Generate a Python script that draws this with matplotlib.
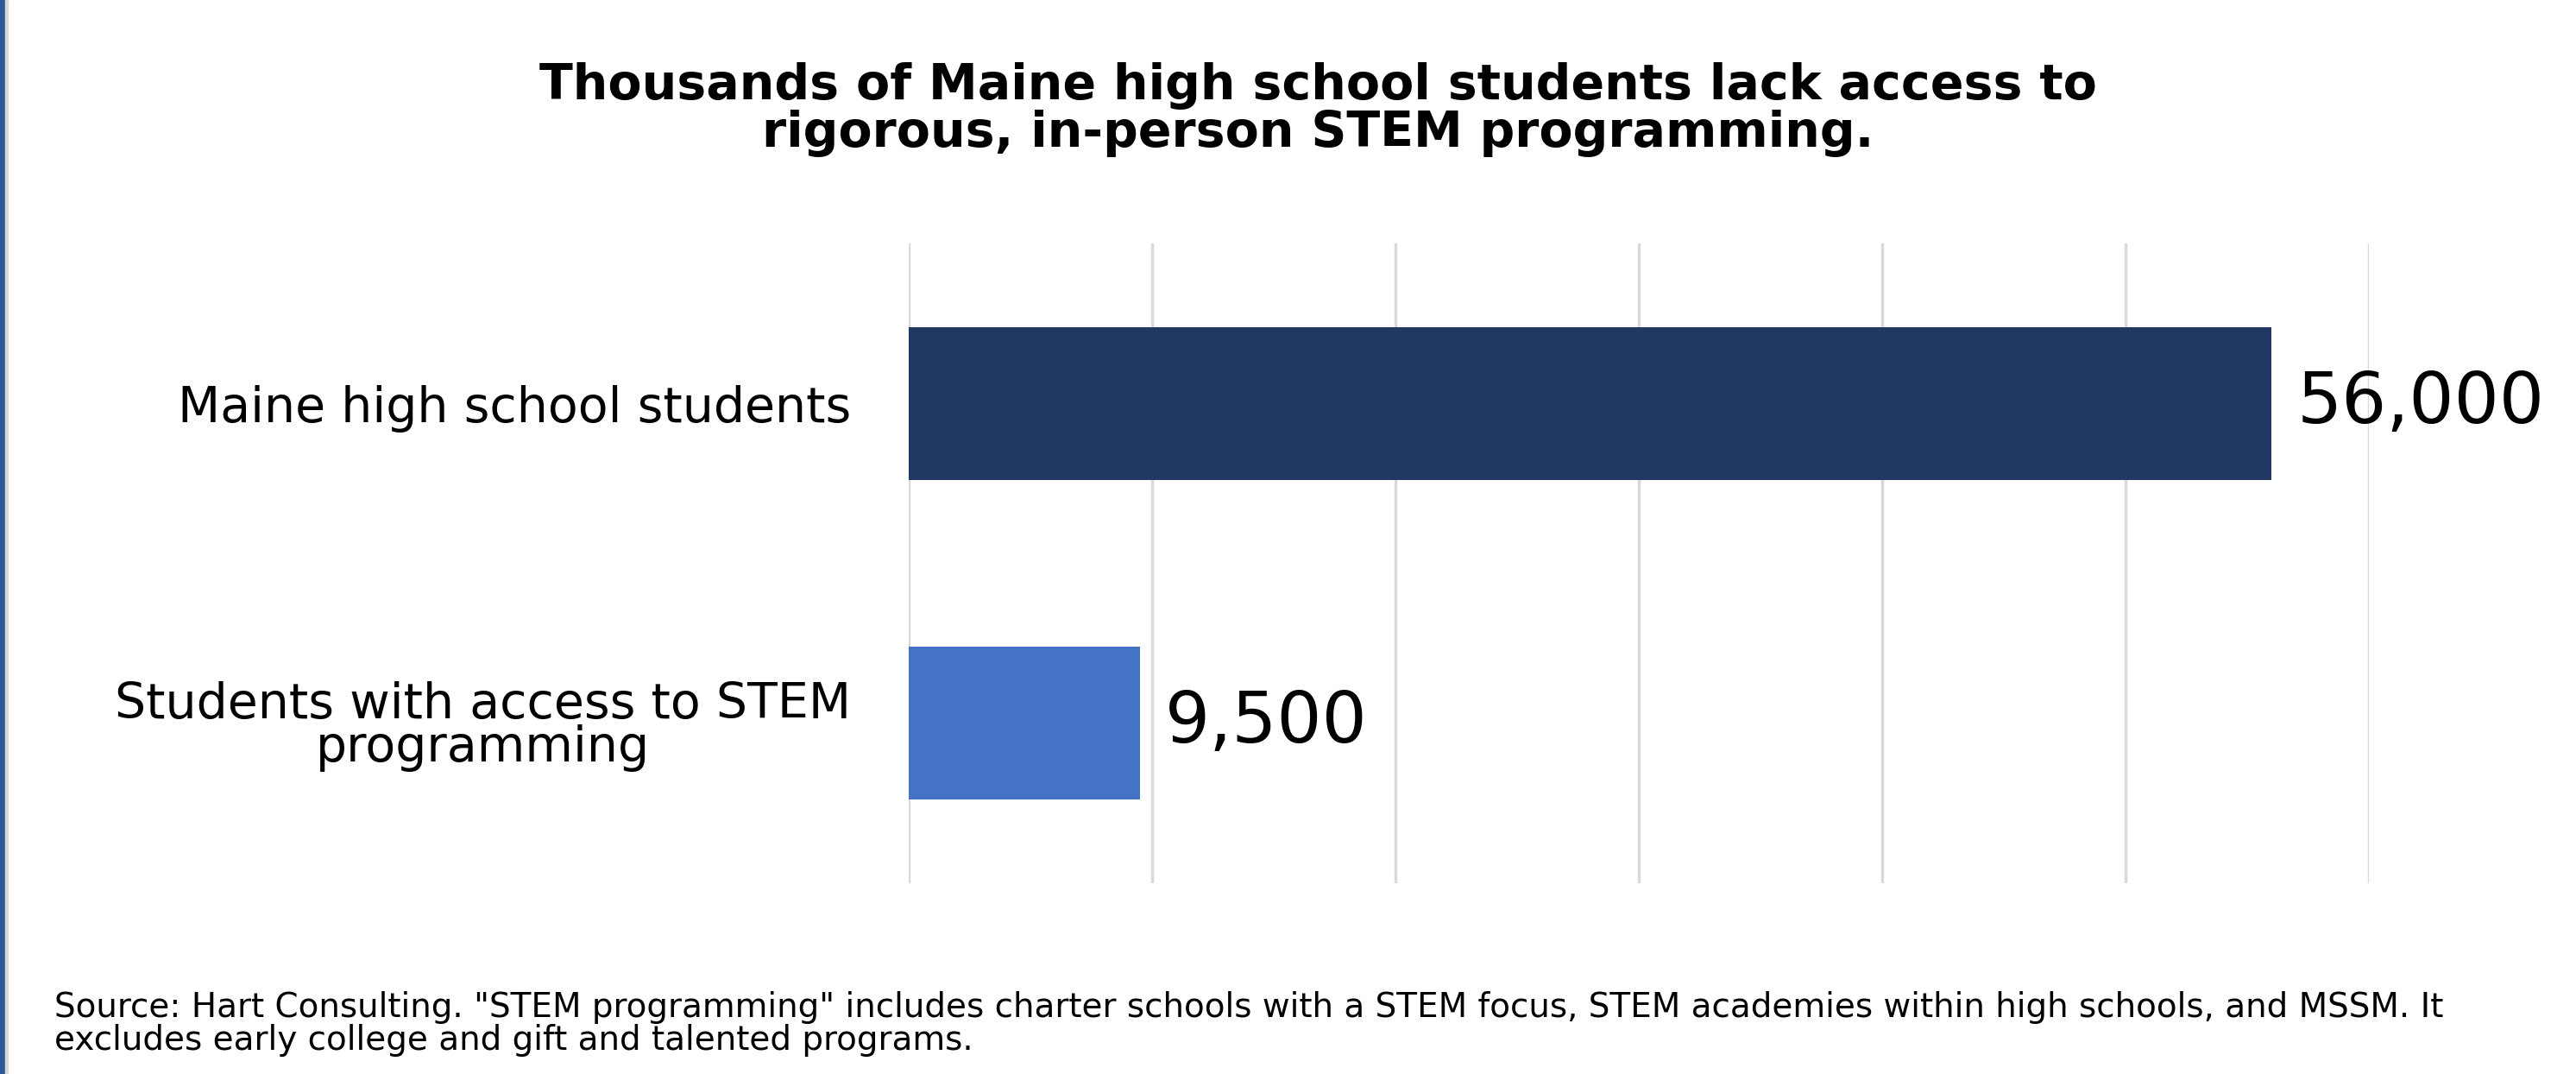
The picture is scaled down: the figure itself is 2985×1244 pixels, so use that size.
import matplotlib
matplotlib.use('Agg')
import matplotlib.pyplot as plt
from matplotlib.patches import Rectangle

# data
categories = ['Maine high school students', 'Students with access to STEM\nprogramming']
values = [56000, 9500]
value_labels = ['56,000', '9,500']
bar_colors = ['#213862', '#4472C4']
x_ticks = [0, 10000, 20000, 30000, 40000, 50000, 60000]

title = ('Thousands of Maine high school students lack access to\n'
         'rigorous, in-person STEM programming.')
source = ('Source: Hart Consulting. "STEM programming" includes charter schools with a STEM focus, '
          'STEM academies within high schools, and MSSM. It\n'
          'excludes early college and gift and talented programs.')

plt.rcParams['font.family'] = ['DejaVu Sans']

fig = plt.figure(figsize=(29.85, 12.44), dpi=100)
fig.patch.set_facecolor('white')

# left border strip like the slide frame
fig.patches.append(Rectangle((0, 0), 6 / 2985, 1, transform=fig.transFigure,
                             color='#2F5A9A', zorder=5))
fig.patches.append(Rectangle((6 / 2985, 0), 3 / 2985, 1, transform=fig.transFigure,
                             color='#D9D9D9', zorder=5))

ax = fig.add_axes([1053 / 2985, 1 - 1023 / 1244, (2745 - 1053) / 2985, (1023 - 282) / 1244])

ypos = list(range(len(categories)))
ax.barh(ypos, values, height=0.478, color=bar_colors, zorder=3)

ax.set_xlim(x_ticks[0], x_ticks[-1])
ax.set_ylim(len(categories) - 0.5, -0.5)
ax.set_xticks(x_ticks)
ax.set_xticklabels([])
ax.grid(axis='x', color='#D9D9D9', linewidth=2.5)
ax.set_axisbelow(True)
for s in ax.spines.values():
    s.set_visible(False)
ax.tick_params(axis='both', length=0)
ax.tick_params(axis='y', pad=48)

ax.set_yticks(ypos)
ax.set_yticklabels(categories, fontsize=41)
for lab in ax.get_yticklabels():
    lab.set_multialignment('center')
    lab.set_linespacing(0.88)

# value labels at the bar ends
for y, v, lab in zip(ypos, values, value_labels):
    ax.annotate(lab, (v, y), xytext=(21, 0), textcoords='offset points',
                va='center', ha='left', fontsize=59, color='black')

fig.text(1527 / 2985, 1 - 127 / 1244, title, ha='center', va='center',
         fontsize=41, fontweight='bold', linespacing=1.0)

fig.text(63 / 2985, 1 - 1186 / 1244, source, ha='left', va='center',
         fontsize=28, linespacing=1.03)

fig.savefig('out.png', dpi=100, facecolor='white')
